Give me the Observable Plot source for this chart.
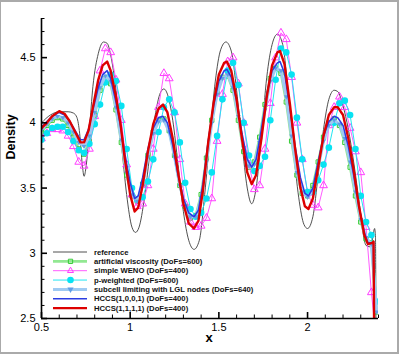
<!DOCTYPE html>
<html><head><meta charset="utf-8">
<script src="https://cdn.jsdelivr.net/npm/d3@7"></script>
<script src="https://cdn.jsdelivr.net/npm/@observablehq/plot@0.6"></script>
<style>
html,body{margin:0;padding:0;background:#fff;}
#wrap{position:relative;width:399px;height:355px;overflow:hidden;}
#frame{position:absolute;left:0;top:0;width:399px;height:354px;box-sizing:border-box;border-left:1px solid #aaa;border-top:2px solid #aaa;border-right:2px solid #aaa;border-bottom:2px solid #aaa;pointer-events:none;}
svg{display:block;}
</style></head>
<body><div id="wrap"><div id="chart"></div><div id="frame"></div></div>
<script>
// ---- data ----
const xGrid = [0.50,0.53,0.56,0.59,0.62,0.65,0.68,0.71,0.74,0.77,
0.80,0.83,0.86,0.89,0.92,0.95,0.98,1.01,1.04,1.07,
1.10,1.13,1.16,1.19,1.22,1.25,1.28,1.31,1.34,1.37,
1.40,1.43,1.46,1.49,1.52,1.55,1.58,1.61,1.64,1.67,
1.70,1.73,1.76,1.79,1.82,1.85,1.88,1.91,1.94,1.97,
2.00,2.03,2.06,2.09,2.12,2.15,2.18,2.21,2.24,2.27,
2.30,2.33,2.36,2.39];

const viscY = [3.93,3.98,4.02,4.04,4.03,3.98,3.89,3.80,3.76,3.86,
4.06,4.25,4.34,4.30,4.10,3.85,3.60,3.44,3.40,3.53,
3.75,3.93,4.02,4.03,3.94,3.75,3.52,3.36,3.27,3.29,
3.45,3.73,4.02,4.23,4.35,4.36,4.25,4.02,3.78,3.66,
3.70,3.89,4.14,4.34,4.42,4.38,4.16,3.86,3.60,3.46,
3.44,3.52,3.70,3.89,4.00,4.03,3.98,3.85,3.66,3.44,
3.24,3.11,3.08,2.55];

const wenoY = [3.88,3.92,3.95,3.95,3.94,3.90,3.82,3.70,3.67,3.80,
4.05,4.40,4.57,4.54,4.33,4.02,3.68,3.45,3.36,3.38,
3.52,3.80,4.12,4.38,4.34,4.08,3.72,3.38,3.24,3.20,
3.21,3.27,3.42,3.86,4.22,4.47,4.50,4.30,4.00,3.68,
3.49,3.52,3.80,4.15,4.50,4.69,4.64,4.35,4.00,3.72,
3.46,3.37,3.35,3.52,3.98,4.12,4.20,4.12,3.96,3.78,
3.62,3.20,2.70,2.30];

const pwY = [3.87,3.92,3.96,3.97,3.97,3.93,3.86,3.79,3.77,3.84,
3.99,4.14,4.31,4.37,4.32,4.13,3.80,3.50,3.41,3.43,
3.55,3.72,3.93,4.12,4.18,4.08,3.85,3.54,3.34,3.28,
3.31,3.42,3.62,3.90,4.18,4.40,4.46,4.29,4.00,3.75,
3.63,3.67,3.74,4.02,4.33,4.57,4.54,4.37,4.04,3.72,
3.47,3.47,3.56,3.68,3.81,4.00,4.15,4.17,4.06,3.80,
3.44,3.24,3.14,2.63];

const subcellY = [3.95,3.99,4.03,4.05,4.04,4.00,3.93,3.85,3.82,3.90,
4.08,4.27,4.36,4.32,4.12,3.87,3.62,3.45,3.40,3.52,
3.74,3.92,4.01,4.02,3.93,3.74,3.52,3.36,3.28,3.28,
3.42,3.70,4.00,4.22,4.34,4.37,4.27,4.05,3.81,3.67,
3.68,3.85,4.10,4.32,4.42,4.40,4.20,3.90,3.62,3.47,
3.43,3.48,3.66,3.86,3.98,4.02,3.99,3.88,3.70,3.47,
3.26,3.12,3.07,2.55];

const hccsX = [0.50,0.53,0.56,0.60,0.63,0.66,0.69,0.72,0.74,0.765,
0.79,0.82,0.845,0.87,0.89,0.92,0.945,0.97,1.00,1.025,
1.045,1.07,1.10,1.13,1.16,1.185,1.21,1.24,1.27,1.30,
1.33,1.36,1.385,1.41,1.44,1.47,1.50,1.53,1.545,1.57,
1.60,1.63,1.66,1.685,1.71,1.74,1.77,1.80,1.83,1.845,
1.87,1.90,1.93,1.96,1.985,2.005,2.03,2.06,2.09,2.12,
2.15,2.17,2.20,2.23,2.26,2.29,2.32,2.34,2.365,2.372,2.376];

const hccs1001Y = [3.97,4.01,4.05,4.08,4.06,4.01,3.94,3.87,3.87,3.95,
4.10,4.27,4.37,4.40,4.34,4.16,3.98,3.76,3.54,3.42,
3.44,3.58,3.80,3.96,4.04,4.05,4.00,3.83,3.60,3.42,
3.31,3.28,3.33,3.53,3.86,4.13,4.32,4.40,4.41,4.35,
4.17,3.92,3.72,3.66,3.72,3.95,4.22,4.40,4.46,4.47,
4.38,4.12,3.82,3.58,3.46,3.44,3.50,3.70,3.90,4.01,
4.05,4.04,3.98,3.82,3.60,3.36,3.16,3.08,3.08,3.09,2.30];

const hccs1111Y = [3.96,4.00,4.05,4.09,4.07,4.01,3.93,3.85,3.85,3.94,
4.12,4.33,4.44,4.47,4.40,4.20,4.00,3.72,3.45,3.32,
3.35,3.52,3.78,3.99,4.11,4.14,4.08,3.88,3.62,3.38,
3.23,3.19,3.25,3.48,3.85,4.15,4.37,4.46,4.47,4.40,
4.18,3.88,3.62,3.53,3.60,3.88,4.20,4.44,4.54,4.55,
4.45,4.15,3.80,3.50,3.36,3.34,3.42,3.66,3.90,4.06,
4.12,4.12,4.06,3.88,3.64,3.36,3.14,3.07,3.08,3.09,2.30];

const refX = [0.50,0.55,0.60,0.65,0.68,0.70,0.715,0.73,0.74,0.75,
0.77,0.79,0.82,0.85,0.87,0.89,0.92,0.95,0.98,1.01,
1.03,1.05,1.08,1.11,1.14,1.17,1.19,1.21,1.24,1.27,
1.30,1.33,1.36,1.39,1.42,1.45,1.48,1.51,1.54,1.57,
1.60,1.63,1.66,1.685,1.71,1.74,1.77,1.80,1.83,1.86,
1.89,1.92,1.95,1.98,2.00,2.03,2.06,2.09,2.12,2.15,
2.17,2.20,2.23,2.26,2.29,2.31,2.33,2.35,2.365,2.378,2.383,2.386];

const refY = [4.00,4.06,4.085,4.085,4.075,4.04,3.92,3.68,3.59,3.65,
3.95,4.28,4.53,4.62,4.61,4.52,4.25,3.85,3.45,3.20,
3.16,3.20,3.42,3.75,4.05,4.23,4.26,4.22,4.02,3.68,
3.32,3.10,3.03,3.10,3.45,3.90,4.32,4.56,4.62,4.55,
4.25,3.85,3.50,3.38,3.50,3.90,4.35,4.60,4.68,4.60,
4.25,3.80,3.43,3.22,3.19,3.28,3.60,3.95,4.18,4.25,
4.24,4.13,3.95,3.70,3.40,3.18,3.06,3.05,3.10,3.19,3.12,2.30];

const seriesLabels = ["reference","artificial viscosity (DoFs=600)","simple WENO (DoFs=400)",
  "p-weighted (DoFs=600)","subcell limiting with LGL nodes (DoFs=640)",
  "HCCS(1,0,0,1) (DoFs=400)","HCCS(1,1,1,1) (DoFs=400)"];

const xMajor = [0.5,1,1.5,2];
const xMinor = [0.6,0.7,0.8,0.9,1.1,1.2,1.3,1.4,1.6,1.7,1.8,1.9,2.1,2.2,2.3,2.4];
const yMajor = [2.5,3,3.5,4,4.5];
const yMinor = [2.6,2.7,2.8,2.9,3.1,3.2,3.3,3.4,3.6,3.7,3.8,3.9,4.1,4.2,4.3,4.4,4.6,4.7,4.8];

// ---- build ----
const rows = (xs, ys) => xs.map((x, i) => ({x, y: ys[i]}));
const ref = rows(refX, refY);
const visc = rows(xGrid, viscY);
const weno = rows(xGrid, wenoY);
const pw = rows(xGrid, pwY);
const sub = rows(xGrid, subcellY);
const h1001 = rows(hccsX, hccs1001Y);
const h1111 = rows(hccsX, hccs1111Y);

const W = 399, H = 355, ML = 41, MT = 18, MR = 21, MB = 37;
const PW = W - ML - MR, PH = H - MT - MB;
const FONT = "'Liberation Sans', Arial, Helvetica, sans-serif";

const st = {
  ref:   {stroke: "#3c3c3c", w: 0.9},
  visc:  {stroke: "#92e892", w: 2.6, mk: "#35cc35", sym: "square", r: 2.4},
  weno:  {stroke: "#ff5cff", w: 1, mk: "#ff3cff", sym: "triangle", r: 2.9},
  pw:    {stroke: "#22e6f2", w: 1, mk: "#08e2f2", sym: "circle", r: 3.3},
  sub:   {stroke: "#9fcaf2", w: 3, mk: "#5f9ee6", sym: "triangle", r: 2.3},
  h1001: {stroke: "#2b3de2", w: 1.6},
  h1111: {stroke: "#dd0000", w: 2.4}
};

const chart = Plot.plot({
  width: W, height: H,
  marginLeft: ML, marginTop: MT, marginRight: MR, marginBottom: MB,
  x: {domain: [0.5, 2.4]},
  y: {domain: [2.5, 4.8]},
  style: {fontFamily: FONT, fontSize: "11px", color: "#000", background: "transparent"},
  marks: [
    Plot.line(ref, {x: "x", y: "y", stroke: st.ref.stroke, strokeWidth: st.ref.w, curve: "monotone-x", clip: true}),
    Plot.line(visc, {x: "x", y: "y", stroke: st.visc.stroke, strokeWidth: st.visc.w, clip: true}),
    Plot.dot(visc, {x: "x", y: "y", symbol: "square", r: st.visc.r, stroke: st.visc.mk, fill: "none", strokeWidth: 1, clip: true}),
    Plot.line(weno, {x: "x", y: "y", stroke: st.weno.stroke, strokeWidth: st.weno.w, clip: true}),
    Plot.dot(weno, {x: "x", y: "y", symbol: "triangle", r: st.weno.r, stroke: st.weno.mk, fill: "none", strokeWidth: 1, clip: true}),
    Plot.line(pw, {x: "x", y: "y", stroke: st.pw.stroke, strokeWidth: st.pw.w, clip: true}),
    Plot.dot(pw, {x: "x", y: "y", r: st.pw.r, fill: st.pw.mk, stroke: "none", clip: true}),
    Plot.line(sub, {x: "x", y: "y", stroke: st.sub.stroke, strokeWidth: st.sub.w, clip: true}),
    Plot.dot(sub, {x: "x", y: "y", symbol: "triangle2", rotate: 180, r: st.sub.r, fill: st.sub.mk, stroke: "none", clip: true}),
    Plot.line(h1001, {x: "x", y: "y", stroke: st.h1001.stroke, strokeWidth: st.h1001.w, clip: true}),
    Plot.line(h1111, {x: "x", y: "y", stroke: st.h1111.stroke, strokeWidth: st.h1111.w, clip: true}),
    // axes
    Plot.ruleX([0.5], {stroke: "#000", strokeWidth: 1.6}),
    Plot.ruleY([2.5], {stroke: "#000", strokeWidth: 1.6}),
    Plot.tickY(yMajor, {y: d => d, insetRight: PW - 6, stroke: "#000", strokeWidth: 1.6}),
    Plot.tickY(yMinor, {y: d => d, insetRight: PW - 3.5, stroke: "#000", strokeWidth: 1}),
    Plot.tickX(xMajor, {x: d => d, insetTop: PH - 6, stroke: "#000", strokeWidth: 1.6}),
    Plot.tickX(xMinor, {x: d => d, insetTop: PH - 3.5, stroke: "#000", strokeWidth: 1}),
    Plot.axisY({ticks: yMajor, tickSize: 0, tickPadding: 6, tickFormat: d => String(d), label: null, fontSize: 11}),
    Plot.axisX({ticks: xMajor, tickSize: 0, tickPadding: 5, tickFormat: d => String(d), label: null, fontSize: 11}),
    Plot.text(["Density"], {frameAnchor: "left", dx: -31, dy: -9, rotate: -90, fontWeight: "bold", fontSize: 12.5}),
    Plot.text(["x"], {frameAnchor: "bottom", dx: -1, dy: 23, fontWeight: "bold", fontSize: 13})
  ]
});

// ---- legend (inside plot, bottom-left) ----
const keys = ["ref", "visc", "weno", "pw", "sub", "h1001", "h1111"];
const svg = d3.select(chart);
const lg = svg.append("g").attr("font-family", FONT).attr("font-size", 7.7)
  .attr("font-weight", "bold").attr("text-anchor", "start");
keys.forEach((k, i) => {
  const y = 252 + i * 9.35;
  const s = st[k];
  lg.append("line").attr("x1", 53).attr("x2", 87).attr("y1", y).attr("y2", y)
    .attr("stroke", s.stroke).attr("stroke-width", s.w);
  if (s.sym) {
    const type = s.sym === "square" ? d3.symbolSquare : s.sym === "circle" ? d3.symbolCircle
      : (k === "weno" ? d3.symbolTriangle2 : d3.symbolTriangle);
    const p = lg.append("path")
      .attr("d", d3.symbol(type, Math.PI * s.r * s.r)())
      .attr("transform", `translate(70.5,${y})` + (k === "sub" ? " rotate(180)" : ""));
    if (k === "visc" || k === "weno") p.attr("fill", "none").attr("stroke", s.mk).attr("stroke-width", 1);
    else p.attr("fill", s.mk);
  }
  lg.append("text").attr("x", 94).attr("y", y).attr("dy", "0.35em").attr("fill", "#111")
    .attr("text-anchor", "start").text(seriesLabels[i]);
});

document.getElementById("chart").appendChild(chart);
</script></body></html>
